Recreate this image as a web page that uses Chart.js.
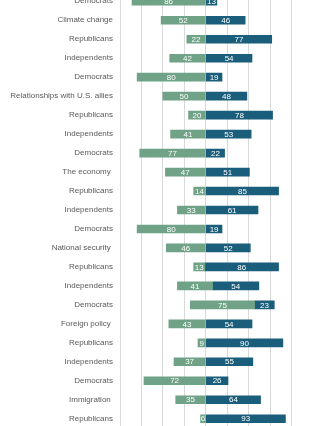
<!DOCTYPE html>
<html>
<head>
<meta charset="utf-8">
<script src="https://cdn.jsdelivr.net/npm/chart.js@4"></script>
<style>
  html, body { margin: 0; padding: 0; background: #fff; }
  #wrap { position: relative; width: 330px; height: 426px; overflow: hidden; }
  #chart { position: absolute; left: 0; top: -20px; }
</style>
</head>
<body>
<div id="wrap">
  <canvas id="chart" width="330" height="460"></canvas>
</div>
<script>
// rows, top to bottom
const categories = [
    'Democrats', 'Climate change', 'Republicans', 'Independents',
    'Democrats', 'Relationships with U.S. allies', 'Republicans', 'Independents',
    'Democrats', 'The economy ', 'Republicans', 'Independents',
    'Democrats', 'National security ', 'Republicans', 'Independents',
    'Democrats', 'Foreign policy ', 'Republicans', 'Independents',
    'Democrats', 'Immigration ', 'Republicans'
];

// left (green) and right (blue) shares
const disapprove = [86, 52, 22, 42, 80, 50, 20, 41, 77, 47, 14, 33, 80, 46, 13, 41, 75, 43, 9, 37, 72, 35, 6];
const approve    = [13, 46, 77, 54, 19, 48, 78, 53, 22, 51, 85, 61, 19, 52, 86, 54, 23, 54, 90, 55, 26, 64, 93];

// a few rows don't sit on the zero line
const shift = [0, 0, 0, 0, 0, 0, 0, 0, 0, 0, 0, 0, 0, 0, -1, 8, 57, 0, 0, 0, 0, 0, 0];

const xMin = -100;
const xMax = 145;
const xStep = 25;

const greenColor = '#6fa286';
const blueColor = '#1a5e7b';

const leftBars = disapprove.map((v, i) => [shift[i] - v, shift[i]]);
const rightBars = approve.map((v, i) => [shift[i], shift[i] + v]);

// white numbers centred in each bar segment
const valueLabels = {
    id: 'valueLabels',
    afterDatasetsDraw(chart) {
        const ctx = chart.ctx;
        ctx.save();
        ctx.font = '8px "Liberation Sans", Arial, sans-serif';
        ctx.fillStyle = '#ffffff';
        ctx.textAlign = 'center';
        ctx.textBaseline = 'middle';
        chart.data.datasets.forEach((ds, di) => {
            chart.getDatasetMeta(di).data.forEach((bar, i) => {
                const x = (bar.x + bar.base) / 2;
                ctx.fillText(String(ds.values[i]), x, bar.y + 0.5);
            });
        });
        ctx.restore();
    }
};

const ctx = document.getElementById('chart').getContext('2d');
const chart = new Chart(ctx, {
    type: 'bar',
    data: {
        labels: categories,
        datasets: [
            {
                label: 'Disapprove',
                data: leftBars,
                values: disapprove,
                backgroundColor: greenColor,
                borderWidth: 0,
                barThickness: 8,
                grouped: false
            },
            {
                label: 'Approve',
                data: rightBars,
                values: approve,
                backgroundColor: blueColor,
                borderWidth: 0,
                barThickness: 8,
                grouped: false
            }
        ]
    },
    options: {
        indexAxis: 'y',
        responsive: false,
        animation: false,
        devicePixelRatio: 1,
        layout: {
            padding: { top: 10.2, bottom: 3.7, left: 0, right: 0 }
        },
        plugins: {
            legend: { display: false },
            tooltip: { enabled: false }
        },
        scales: {
            x: {
                min: xMin,
                max: xMax,
                ticks: { display: false, stepSize: xStep },
                grid: {
                    drawTicks: false,
                    lineWidth: 1,
                    color: (c) => (c.tick && c.tick.value % xStep === 0) ? '#d9d9d9' : 'rgba(0,0,0,0)'
                },
                border: { display: false },
                afterFit: (scale) => { scale.height = 0; }
            },
            y: {
                ticks: {
                    autoSkip: false,
                    padding: 7,
                    color: '#595959',
                    font: { family: '"Liberation Sans", Arial, sans-serif', size: 8 }
                },
                grid: { display: false, drawTicks: false },
                border: { display: false },
                afterFit: (scale) => { scale.width = 120; }
            }
        }
    },
    plugins: [valueLabels]
});
</script>
</body>
</html>
